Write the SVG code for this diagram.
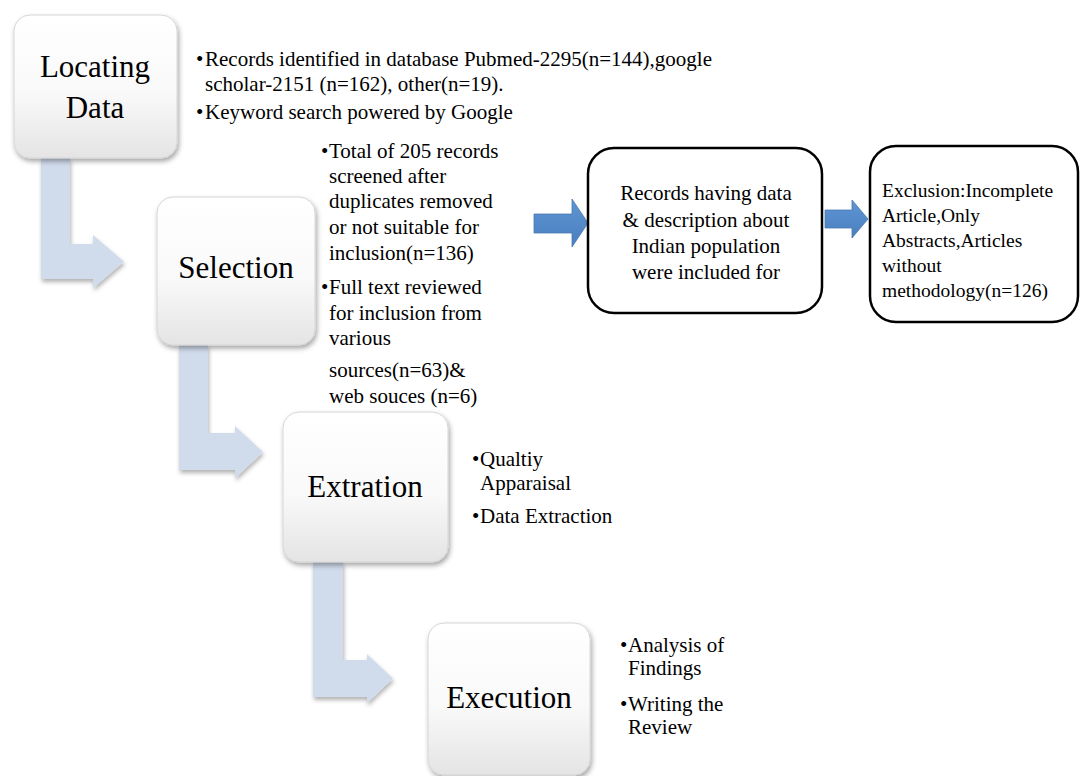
<svg xmlns="http://www.w3.org/2000/svg" width="1081" height="776" viewBox="0 0 1081 776">
<defs>
<linearGradient id="boxGrad" x1="0" y1="0" x2="0" y2="1">
<stop offset="0" stop-color="#ffffff"/>
<stop offset="0.55" stop-color="#f9f9f9"/>
<stop offset="1" stop-color="#e4e4e4"/>
</linearGradient>
<linearGradient id="blueGrad" x1="0" y1="0" x2="0" y2="1">
<stop offset="0" stop-color="#5e95d2"/>
<stop offset="1" stop-color="#4a7fc0"/>
</linearGradient>
<filter id="shadow" x="-20%" y="-20%" width="140%" height="140%">
<feDropShadow dx="1.5" dy="3" stdDeviation="2.5" flood-color="#000" flood-opacity="0.35"/>
</filter>
<filter id="ashadow" x="-20%" y="-20%" width="140%" height="140%">
<feDropShadow dx="1" dy="3" stdDeviation="2" flood-color="#000" flood-opacity="0.3"/>
</filter>
</defs>
<style>
.step{fill:url(#boxGrad);stroke:#d6d6d6;stroke-width:1;filter:url(#shadow)}
.label{font-family:"Liberation Serif","Times New Roman",serif;font-size:31px;fill:#000;text-anchor:middle}
.txt{font-family:"Liberation Serif","Times New Roman",serif;font-size:21px;fill:#000}
.small{font-family:"Liberation Serif","Times New Roman",serif;font-size:19.5px;fill:#000}
.mid{text-anchor:middle}
.bent{fill:#d0dcec;filter:url(#ashadow)}
.blue{fill:url(#blueGrad);stroke:#4a78b0;stroke-width:0.8}
.outline{fill:#fff;stroke:#000;stroke-width:2.5}
</style>
<rect width="1081" height="776" fill="#fff"/>

<g id="connectors">
<path class="bent" d="M41,158 L70,158 L70,244 L93,244 L93,235 L124,261.5 L93,288 L93,279 L41,279 Z"/>
<path class="bent" d="M179,345 L208,345 L208,433 L235,433 L235,426 L263,452 L235,478 L235,470 L179,470 Z"/>
<path class="bent" d="M313,562 L343,562 L343,660 L367,660 L367,654 L393,678.5 L367,703 L367,697 L313,697 Z"/>
<path class="blue" d="M534,214 L572,214 L572,199 L588,223 L572,247 L572,233 L534,233 Z"/>
<path class="blue" d="M825,210 L852,210 L852,200 L868,219 L852,238 L852,228 L825,228 Z"/>
</g>

<g id="locating">
<rect class="step" x="14" y="15" width="163" height="143" rx="16"/>
<text class="label" x="95" y="77">Locating</text>
<text class="label" x="95" y="118">Data</text>
<text class="txt"><tspan x="196" y="66">•</tspan><tspan x="205" y="66">Records identified in database Pubmed-2295(n=144),google</tspan><tspan x="205" y="91">scholar-2151 (n=162), other(n=19).</tspan><tspan x="196" y="119">•</tspan><tspan x="205" y="119">Keyword search powered by Google</tspan></text>
</g>

<g id="selection">
<rect class="step" x="157" y="197" width="158" height="148" rx="16"/>
<text class="label" x="236" y="278">Selection</text>
<text class="txt"><tspan x="321" y="158">•</tspan><tspan x="329" y="158">Total of 205 records</tspan><tspan x="329" y="183">screened after</tspan><tspan x="329" y="208">duplicates removed</tspan><tspan x="329" y="234">or not suitable for</tspan><tspan x="329" y="260">inclusion(n=136)</tspan><tspan x="321" y="294">•</tspan><tspan x="329" y="294">Full text reviewed</tspan><tspan x="329" y="320">for inclusion from</tspan><tspan x="329" y="345">various</tspan><tspan x="329" y="377">sources(n=63)&amp;</tspan><tspan x="329" y="403">web souces (n=6)</tspan></text>
</g>

<g id="records-included">
<rect class="outline" x="588" y="148" width="234" height="165" rx="26"/>
<text class="txt mid"><tspan x="706" y="200">Records having data</tspan><tspan x="706" y="227">&amp; description about</tspan><tspan x="706" y="253">Indian  population</tspan><tspan x="706" y="279">were included for</tspan></text>
</g>

<g id="exclusion">
<rect class="outline" x="870" y="146" width="208" height="176" rx="26"/>
<text class="small"><tspan x="882" y="197">Exclusion:Incomplete</tspan><tspan x="882" y="222">Article,Only</tspan><tspan x="882" y="247">Abstracts,Articles</tspan><tspan x="882" y="272">without</tspan><tspan x="882" y="297">methodology(n=126)</tspan></text>
</g>

<g id="extraction">
<rect class="step" x="283" y="412" width="165" height="150" rx="16"/>
<text class="label" x="365" y="497">Extration</text>
<text class="txt"><tspan x="472" y="466">•</tspan><tspan x="480" y="466">Qualtiy</tspan><tspan x="480" y="490">Apparaisal</tspan><tspan x="472" y="523">•</tspan><tspan x="480" y="523">Data Extraction</tspan></text>
</g>

<g id="execution">
<rect class="step" x="428" y="623" width="162" height="152" rx="16"/>
<text class="label" x="509" y="708">Execution</text>
<text class="txt"><tspan x="620" y="652">•</tspan><tspan x="628" y="652">Analysis of</tspan><tspan x="628" y="675">Findings</tspan><tspan x="620" y="711">•</tspan><tspan x="628" y="711">Writing the</tspan><tspan x="628" y="734">Review</tspan></text>
</g>
</svg>
